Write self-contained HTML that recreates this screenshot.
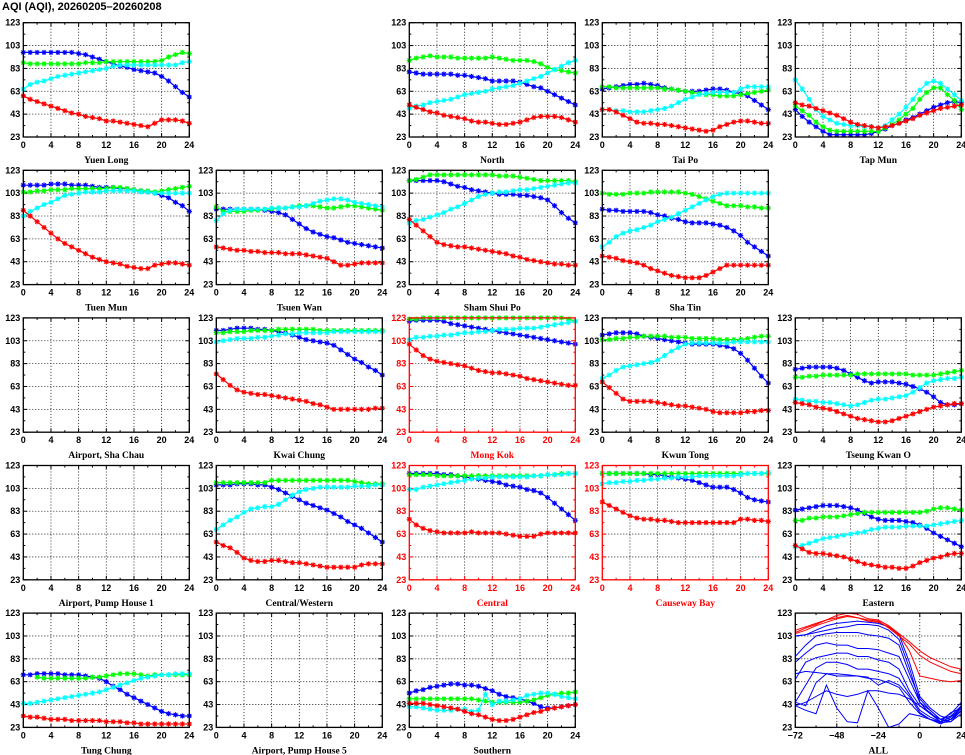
<!DOCTYPE html>
<html><head><meta charset="utf-8">
<style>
html,body{margin:0;padding:0;background:#fff;}
body{width:965px;height:755px;overflow:hidden;position:relative;font-family:"Liberation Sans",sans-serif;}
#title{position:absolute;left:2px;top:1px;font-size:11px;font-weight:bold;color:#000;white-space:nowrap;}
svg{position:absolute;left:0;top:0;}
</style></head>
<body>
<div id="title">AQI (AQI), 20260205–20260208</div>
<svg id="chart" width="965" height="755"></svg>
<script>
const hours = [0,1,2,3,4,5,6,7,8,9,10,11,12,13,14,15,16,17,18,19,20,21,22,23,24];
const xTickLabels = [0,4,8,12,16,20,24];
const yTickLabels = [23,43,63,83,103,123];
const allHours = [-72,-66,-60,-54,-48,-42,-36,-30,-24,-18,-12,-6,0,6,12,18,24];
const allTickLabels = [-72,-48,-24,0,24];

const yuenLongBlue=[97,97,97,97,97,97,97,97,96,95,93,91,89,87,85,84,82,81,80,79,76,72,67,62,58];
const yuenLongGreen=[88,87,87,87,87,87,87,87,87,88,88,88,89,89,89,89,89,89,89,89,90,93,95,97,96];
const yuenLongCyan=[65,69,71,72,74,76,77,78,79,80,81,82,83,85,86,86,86,86,86,86,86,86,86,88,89];
const yuenLongRed=[59,56,54,52,50,48,46,44,43,41,40,39,37,37,36,35,34,33,32,35,38,38,38,37,35];

const northBlue=[80,79,78,78,78,78,78,77,77,76,75,74,72,72,72,72,71,69,67,66,63,60,57,54,51];
const northGreen=[90,92,93,94,93,93,93,92,92,92,92,92,93,92,91,90,90,90,89,87,84,82,81,80,79];
const northCyan=[48,50,51,53,54,55,56,58,60,61,62,63,65,66,67,68,70,72,74,76,79,82,85,88,90];
const northRed=[51,49,47,45,44,42,41,40,39,37,36,36,35,34,34,35,36,38,40,41,41,41,40,38,36];

const taiPoBlue=[65,66,67,68,69,69,70,69,68,66,65,64,63,63,63,64,65,65,64,62,61,59,55,51,47];
const taiPoGreen=[67,67,66,66,66,66,66,66,66,65,65,64,63,62,61,60,60,59,59,59,60,61,62,63,64];
const taiPoCyan=[47,47,46,46,45,45,45,46,47,48,50,53,56,58,60,61,62,62,62,62,65,67,67,67,67];
const taiPoRed=[47,47,45,42,39,36,35,35,34,34,33,32,31,30,29,28,29,32,34,36,37,37,36,35,35];

const tapMunBlue=[47,41,36,32,28,25,25,25,25,25,25,26,28,30,33,35,38,40,43,46,49,51,53,54,53];
const tapMunGreen=[50,46,42,36,32,29,28,28,28,28,28,28,28,31,34,38,43,48,56,62,66,66,60,55,47];
const tapMunCyan=[73,65,56,47,41,38,35,34,33,33,32,32,31,33,38,43,49,56,64,70,72,70,65,60,55];
const tapMunRed=[53,51,50,48,46,44,42,39,36,34,33,32,31,32,33,35,37,39,42,44,46,48,49,50,51];

const tuenMunBlue=[110,110,110,110,111,111,111,110,110,110,109,108,108,108,107,107,106,105,104,103,101,99,95,92,87];
const tuenMunGreen=[104,104,105,105,106,106,106,107,107,107,107,107,107,108,108,107,106,105,105,104,105,106,107,108,109];
const tuenMunCyan=[83,87,90,93,95,98,101,102,103,104,104,104,105,105,105,105,105,104,104,103,103,103,103,103,103];
const tuenMunRed=[88,83,78,73,68,63,59,56,53,50,47,45,43,42,41,39,38,37,37,40,41,42,42,41,40];

const tsuenWanBlue=[89,89,89,89,89,89,89,88,87,86,84,80,76,72,69,67,65,64,62,60,59,58,57,56,55];
const tsuenWanGreen=[91,87,87,87,87,88,88,89,89,90,90,91,92,92,92,91,90,90,91,92,92,91,90,89,88];
const tsuenWanCyan=[79,85,88,89,89,89,89,89,90,90,90,91,91,92,94,96,97,98,98,97,95,94,93,92,91];
const tsuenWanRed=[56,55,54,53,53,52,52,51,51,51,50,50,50,49,48,47,46,43,40,40,41,42,42,42,42];

const shamShuiPoBlue=[114,114,114,114,114,113,111,109,108,106,105,104,103,102,102,102,101,101,100,99,97,92,86,81,77];
const shamShuiPoGreen=[114,115,117,119,119,119,119,119,119,119,119,119,119,118,118,118,117,116,115,114,114,114,114,114,113];
const shamShuiPoCyan=[77,79,80,82,84,86,89,91,94,97,100,102,103,104,104,105,106,106,107,108,109,110,111,112,112];
const shamShuiPoRed=[80,75,70,65,60,58,57,56,56,55,54,53,52,51,50,48,47,45,44,43,42,41,41,40,40];

const shaTinBlue=[89,88,88,87,87,87,87,86,84,83,81,80,78,77,77,77,76,75,73,70,66,60,56,52,48];
const shaTinGreen=[103,102,102,102,103,103,103,104,104,104,104,104,103,102,100,98,96,94,92,92,92,91,91,90,90];
const shaTinCyan=[56,60,65,68,70,71,73,75,78,80,82,85,88,91,94,97,100,102,103,103,103,103,103,103,103];
const shaTinRed=[48,47,46,44,43,42,40,37,35,33,31,30,29,29,29,31,34,37,40,40,40,40,40,40,40];

const kwaiChungBlue=[112,112,113,114,114,114,113,113,112,111,110,108,106,104,103,102,101,99,95,91,87,84,80,77,73];
const kwaiChungGreen=[110,110,111,111,111,112,112,112,112,113,113,113,113,113,113,112,112,112,112,112,112,112,112,112,112];
const kwaiChungCyan=[102,103,104,105,105,105,106,106,107,108,109,109,110,110,110,110,110,111,111,111,111,111,111,111,111];
const kwaiChungRed=[74,69,64,60,58,57,56,56,55,54,53,52,51,50,48,47,45,43,43,43,43,43,43,44,44];

const mongKokBlue=[120,121,121,121,121,120,118,117,116,115,114,113,112,111,110,109,108,107,106,105,104,103,102,101,100];
const mongKokGreen=[122,122,123,123,123,123,123,123,123,123,123,123,123,123,123,123,123,123,123,123,123,123,123,122,120];
const mongKokCyan=[104,106,106,107,107,108,108,109,110,110,111,111,112,113,113,113,114,114,114,115,116,117,118,119,120];
const mongKokRed=[100,95,90,87,85,84,83,82,81,79,77,76,75,75,74,73,72,70,69,68,67,66,65,64,64];

const kwunTongBlue=[108,109,110,110,110,109,107,106,105,104,103,102,101,100,100,100,100,99,98,96,92,86,79,72,66];
const kwunTongGreen=[104,104,105,105,106,106,107,107,107,107,106,106,106,105,105,105,105,104,104,104,104,105,106,107,107];
const kwunTongCyan=[70,73,77,80,81,82,83,84,86,90,94,97,100,101,101,101,101,101,101,102,102,102,102,102,102];
const kwunTongRed=[67,62,57,52,50,50,50,50,49,48,47,46,46,45,44,43,41,40,40,40,40,41,41,42,42];

const tkoBlue=[78,79,80,80,80,80,79,77,74,71,68,66,67,67,67,66,65,63,61,58,54,49,47,47,48];
const tkoGreen=[71,71,72,72,73,73,73,73,73,74,74,74,74,74,74,74,74,73,73,73,73,74,75,76,77];
const tkoCyan=[52,51,50,50,49,49,48,47,46,47,49,51,52,52,53,54,55,58,62,66,68,69,70,70,71];
const tkoRed=[49,48,47,45,44,43,41,39,37,35,34,33,32,32,33,35,37,39,41,43,45,46,47,48,48];

const centralWesternBlue=[106,106,106,107,107,107,106,106,104,102,99,96,93,90,88,86,84,81,78,74,71,68,64,60,56];
const centralWesternGreen=[108,108,108,108,108,108,108,108,110,110,110,110,110,110,110,110,110,110,110,110,109,108,107,107,107];
const centralWesternCyan=[67,71,75,78,82,85,86,87,87,89,93,97,100,102,103,104,104,104,104,104,105,105,105,106,106];
const centralWesternRed=[56,53,51,47,42,40,39,39,40,40,39,38,38,37,36,35,34,34,34,34,34,36,37,37,37];

const centralBlue=[116,116,116,116,116,115,115,114,113,112,111,110,109,108,106,105,104,102,101,99,95,90,85,80,75];
const centralGreen=[115,115,115,115,114,114,114,114,114,114,114,114,114,114,114,114,114,114,114,114,115,115,116,116,116];
const centralCyan=[102,102,104,105,106,107,108,109,110,111,112,112,113,113,113,113,113,113,114,114,115,115,115,116,116];
const centralRed=[76,71,68,66,65,64,64,64,64,65,64,64,64,64,63,62,61,61,61,63,64,64,64,64,64];

const causewayBayBlue=[116,116,116,116,116,116,116,115,115,114,113,112,111,110,108,106,104,104,104,102,99,95,93,92,91];
const causewayBayGreen=[116,116,116,116,116,116,116,116,116,116,116,116,116,116,116,116,116,116,116,116,116,116,116,116,116];
const causewayBayCyan=[107,108,108,109,109,110,110,111,111,112,112,113,113,113,114,114,114,114,114,114,115,116,116,116,117];
const causewayBayRed=[91,88,85,82,79,77,76,76,75,75,74,73,73,73,73,73,73,73,73,73,76,76,75,75,74];

const easternBlue=[84,85,86,87,88,88,88,87,86,84,81,78,76,75,75,75,74,73,71,68,64,61,58,55,52];
const easternGreen=[75,75,77,77,78,78,78,79,80,81,82,82,82,82,82,82,82,82,82,83,85,86,86,85,84];
const easternCyan=[52,53,55,57,59,60,61,62,63,64,65,67,68,69,69,69,70,70,70,70,71,72,73,74,75];
const easternRed=[53,50,47,46,46,45,44,43,41,39,37,36,35,34,34,33,33,35,38,40,42,43,45,46,46];

const tungChungBlue=[69,69,70,70,70,70,69,69,69,68,67,66,63,59,56,52,49,46,43,40,37,35,34,33,33];
const tungChungGreen=[null,null,67,66,66,66,66,66,66,66,67,67,68,69,70,70,70,69,68,69,69,69,69,69,69];
const tungChungCyan=[44,44,45,46,47,48,49,50,51,52,53,54,56,58,60,62,64,66,67,68,69,69,70,70,70];
const tungChungRed=[33,32,32,31,30,30,30,29,29,29,29,29,28,28,28,27,27,26,26,26,26,26,26,26,26];

const southernBlue=[53,55,56,58,59,60,61,61,60,60,59,57,55,52,50,49,48,46,44,41,40,40,41,42,43];
const southernGreen=[48,48,48,48,48,48,48,48,48,48,47,46,45,45,45,45,45,46,47,49,51,52,53,53,54];
const southernCyan=[41,41,40,39,38,38,38,39,39,37,38,52,43,46,46,47,48,51,52,53,53,52,50,49,48];
const southernRed=[44,44,44,43,42,41,40,39,37,35,34,32,30,29,29,30,32,34,36,37,39,40,41,42,43];

const allRed1=[106,110,113,117,121,123,122,118,117,112,105,98,90,84,80,76,74];
const allRed2=[108,111,114,117,119,121,119,116,115,111,104,90,68,66,64,63,64];
const allRed3=[105,108,112,115,118,120,119,117,116,110,103,96,86,80,76,72,70];
const allBlue1=[103,104,108,112,114,115,116,115,114,111,104,80,50,40,33,30,40];
const allBlue2=[103,104,106,108,110,111,113,113,112,108,100,75,45,38,30,28,38];
const allBlue3=[85,95,103,105,106,106,106,104,103,101,95,70,48,38,30,33,42];
const allBlue4=[80,88,95,97,95,95,92,92,91,88,85,65,45,35,30,35,45];
const allBlue5=[65,80,84,86,88,88,85,85,82,80,74,55,42,35,28,32,40];
const allBlue6=[45,60,75,80,80,78,74,74,72,70,66,52,38,32,28,30,38];
const allBlue7=[45,42,62,70,68,68,68,67,60,64,60,50,36,30,26,30,42];
const allBlue8=[42,38,35,60,40,28,27,55,40,23,26,35,33,30,28,36,40];
const allBlue9=[70,72,71,70,70,69,68,66,65,62,58,45,35,30,27,28,35];
const allBlue10=[42,45,50,55,52,50,52,55,55,53,52,48,42,36,28,30,37];

const BLUE='#0000ff',GREEN='#00ff00',CYAN='#00ffff',RED='#ff0000';
const NS='http://www.w3.org/2000/svg';
const svg=document.getElementById('chart');
function mk(tag,attrs,parent){const e=document.createElementNS(NS,tag);for(const k in attrs)e.setAttribute(k,attrs[k]);(parent||svg).appendChild(e);return e;}

function drawPanel(col,row,name,slug,redFrame,series,opts){
  opts=opts||{};
  const x0=23.3+193*col,y0=22.7+147.6*row,w=166,h=114.3;
  const xmin=opts.xmin!==undefined?opts.xmin:0,xmax=opts.xmax!==undefined?opts.xmax:24;
  const xs=v=>x0+(v-xmin)/(xmax-xmin)*w;
  const ys=v=>y0+h-(v-23)/100*h;
  const fc=redFrame?RED:'#000';
  const g=mk('g',{});
  
  
  // grid
  yTickLabels.forEach(v=>{
    if(v>23&&v<123) mk('line',{x1:x0,x2:x0+w,y1:ys(v),y2:ys(v),stroke:'#000','stroke-width':0.8,'stroke-dasharray':'1,2'},g);
  });
  const xt=opts.xticks||xTickLabels;
  xt.forEach(v=>{
    if(v>xmin&&v<xmax) mk('line',{x1:xs(v),x2:xs(v),y1:y0,y2:y0+h,stroke:'#000','stroke-width':0.8,'stroke-dasharray':'1,2'},g);
  });
  // ticks
  for(let v=23;v<=123;v+=10){
    const L=(v-23)%20===0?4:2;
    mk('line',{x1:x0,x2:x0+L,y1:ys(v),y2:ys(v),stroke:fc,'stroke-width':1},g);
    mk('line',{x1:x0+w,x2:x0+w-L,y1:ys(v),y2:ys(v),stroke:fc,'stroke-width':1},g);
  }
  const minorStep=opts.minor||2;
  for(let v=xmin;v<=xmax;v+=minorStep){
    const L=xt.indexOf(v)>=0?4:2;
    mk('line',{x1:xs(v),x2:xs(v),y1:y0+h,y2:y0+h-L,stroke:fc,'stroke-width':1},g);
    mk('line',{x1:xs(v),x2:xs(v),y1:y0,y2:y0+L,stroke:fc,'stroke-width':1},g);
  }
  // tick labels
  yTickLabels.forEach(v=>{
    const t=mk('text',{x:x0-3,y:ys(v)+3,'text-anchor':'end','font-size':9,'font-weight':'bold',fill:fc,'font-family':'Liberation Sans, sans-serif'},g);
    t.textContent=v;
    
    
  });
  xt.forEach(v=>{
    const t=mk('text',{x:xs(v),y:y0+h+11,'text-anchor':'middle','font-size':9,'font-weight':'bold',fill:fc,'font-family':'Liberation Sans, sans-serif'},g);
    t.textContent=v<0?'\u2212'+(-v):v;
    
    
  });
  const nt=mk('text',{x:x0+w/2,y:y0+h+26,'text-anchor':'middle','font-size':9.5,'font-weight':'bold',fill:fc,'font-family':'Liberation Serif, serif'},g);
  nt.textContent=name;
  
  
  // series
  const clip='clip-'+slug;
  const cp=mk('clipPath',{id:clip},g);
  mk('rect',{x:x0-3,y:y0-3,width:w+6,height:h+6},cp);
  series.forEach(s=>{
    const xsArr=s.x||hours;
    let d='',pen=false;
    s.v.forEach((v,i)=>{
      if(v===null){pen=false;return;}
      d+=(pen?'L':'M')+xs(xsArr[i]).toFixed(1)+','+ys(v).toFixed(1);pen=true;
    });
    const p=mk('path',{d:d,fill:'none',stroke:s.c,'stroke-width':s.marker===false?1:1.2,'clip-path':'url(#'+clip+')'},g);
    
    
    if(s.marker!==false){
      let md='';
      s.v.forEach((v,i)=>{
        if(v===null)return;
        const X=xs(xsArr[i]),Y=ys(v),r=2.6;
        md+=`M${X-r},${Y}h${2*r}M${X},${Y-r}v${2*r}M${X-r*0.75},${Y-r*0.75}l${1.5*r},${1.5*r}M${X-r*0.75},${Y+r*0.75}l${1.5*r},${-1.5*r}`;
      });
      const m=mk('path',{d:md,fill:'none',stroke:s.c,'stroke-width':1.1,'clip-path':'url(#'+clip+')'},g);
      
      
    }
  });
  // frame
  const fr=mk('rect',{x:x0,y:y0,width:w,height:h,fill:'none',stroke:fc,'stroke-width':1.3},g);
  
  
}
function four(b,gr,cy,rd){return [{n:'series-blue',c:BLUE,v:b},{n:'series-green',c:GREEN,v:gr},{n:'series-cyan',c:CYAN,v:cy},{n:'series-red',c:RED,v:rd}];}

drawPanel(0,0,'Yuen Long','yuen-long',false,four(yuenLongBlue,yuenLongGreen,yuenLongCyan,yuenLongRed));
drawPanel(2,0,'North','north',false,four(northBlue,northGreen,northCyan,northRed));
drawPanel(3,0,'Tai Po','tai-po',false,four(taiPoBlue,taiPoGreen,taiPoCyan,taiPoRed));
drawPanel(4,0,'Tap Mun','tap-mun',false,four(tapMunBlue,tapMunGreen,tapMunCyan,tapMunRed));
drawPanel(0,1,'Tuen Mun','tuen-mun',false,four(tuenMunBlue,tuenMunGreen,tuenMunCyan,tuenMunRed));
drawPanel(1,1,'Tsuen Wan','tsuen-wan',false,four(tsuenWanBlue,tsuenWanGreen,tsuenWanCyan,tsuenWanRed));
drawPanel(2,1,'Sham Shui Po','sham-shui-po',false,four(shamShuiPoBlue,shamShuiPoGreen,shamShuiPoCyan,shamShuiPoRed));
drawPanel(3,1,'Sha Tin','sha-tin',false,four(shaTinBlue,shaTinGreen,shaTinCyan,shaTinRed));
drawPanel(0,2,'Airport, Sha Chau','airport-sha-chau',false,[]);
drawPanel(1,2,'Kwai Chung','kwai-chung',false,four(kwaiChungBlue,kwaiChungGreen,kwaiChungCyan,kwaiChungRed));
drawPanel(2,2,'Mong Kok','mong-kok',true,four(mongKokBlue,mongKokGreen,mongKokCyan,mongKokRed));
drawPanel(3,2,'Kwun Tong','kwun-tong',false,four(kwunTongBlue,kwunTongGreen,kwunTongCyan,kwunTongRed));
drawPanel(4,2,'Tseung Kwan O','tseung-kwan-o',false,four(tkoBlue,tkoGreen,tkoCyan,tkoRed));
drawPanel(0,3,'Airport, Pump House 1','airport-pump-house-1',false,[]);
drawPanel(1,3,'Central/Western','central-western',false,four(centralWesternBlue,centralWesternGreen,centralWesternCyan,centralWesternRed));
drawPanel(2,3,'Central','central',true,four(centralBlue,centralGreen,centralCyan,centralRed));
drawPanel(3,3,'Causeway Bay','causeway-bay',true,four(causewayBayBlue,causewayBayGreen,causewayBayCyan,causewayBayRed));
drawPanel(4,3,'Eastern','eastern',false,four(easternBlue,easternGreen,easternCyan,easternRed));
drawPanel(0,4,'Tung Chung','tung-chung',false,four(tungChungBlue,tungChungGreen,tungChungCyan,tungChungRed));
drawPanel(1,4,'Airport, Pump House 5','airport-pump-house-5',false,[]);
drawPanel(2,4,'Southern','southern',false,four(southernBlue,southernGreen,southernCyan,southernRed));
const allSeries=[allBlue1,allBlue2,allBlue3,allBlue4,allBlue5,allBlue6,allBlue7,allBlue8,allBlue9,allBlue10].map(v=>({n:'all-blue-line',c:BLUE,v:v,x:allHours,marker:false}))
  .concat([allRed1,allRed2,allRed3].map(v=>({n:'all-red-line',c:RED,v:v,x:allHours,marker:false})));
drawPanel(4,4,'ALL','all',false,allSeries,{xmin:-72,xmax:24,xticks:allTickLabels,minor:12});
</script>
</body></html>
